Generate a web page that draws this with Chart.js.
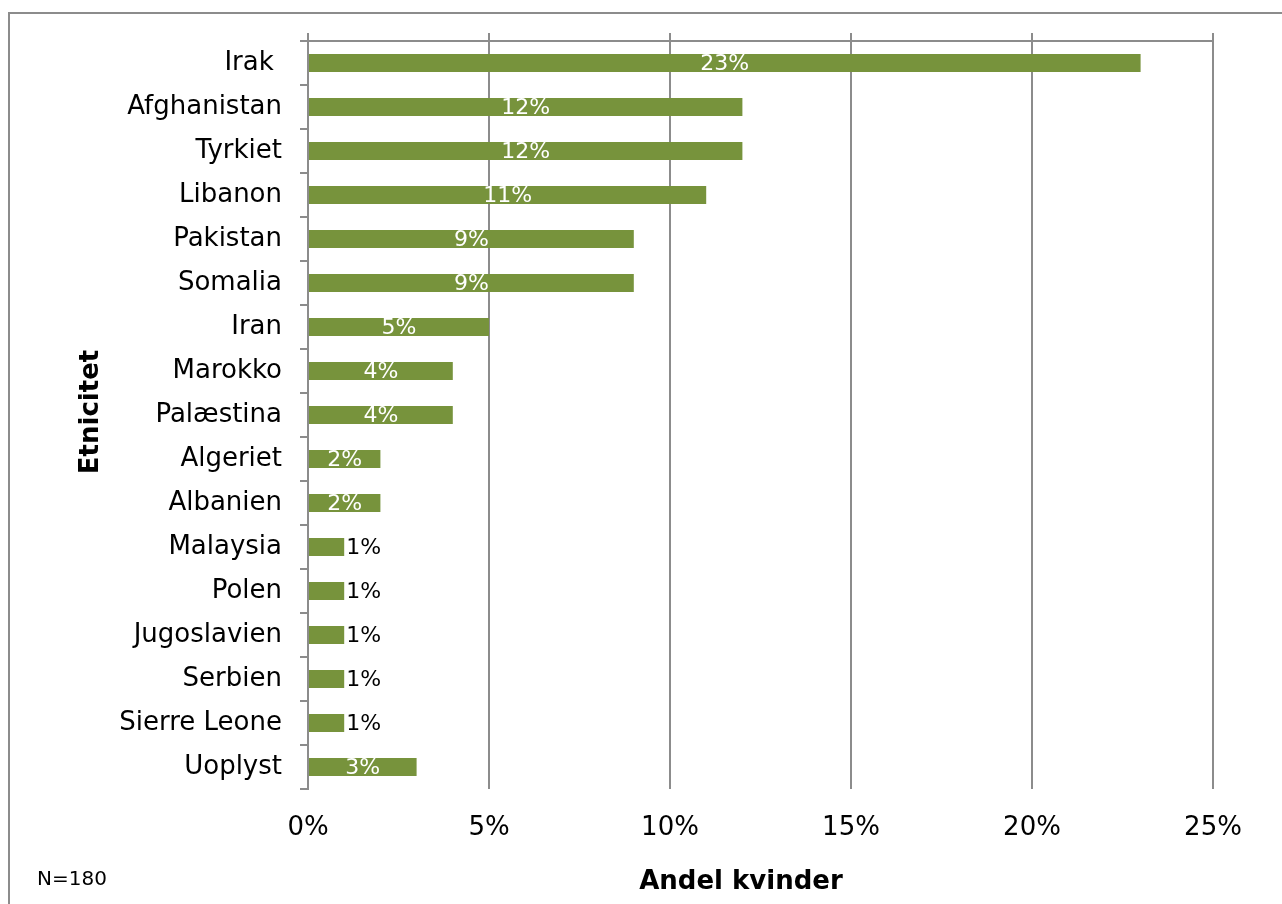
<!DOCTYPE html>
<html>
<head>
<meta charset="utf-8">
<script src="https://cdn.jsdelivr.net/npm/chart.js@4"></script>
<style>
  html, body { margin: 0; padding: 0; background: #fff; }
  #wrap { position: relative; width: 1282px; height: 904px; }
  canvas { display: block; }
</style>
</head>
<body>
<div id="wrap"><canvas id="c" width="1282" height="904"></canvas></div>
<script>
const categories = ['Irak ', 'Afghanistan', 'Tyrkiet', 'Libanon', 'Pakistan', 'Somalia', 'Iran', 'Marokko', 'Palæstina', 'Algeriet', 'Albanien', 'Malaysia', 'Polen', 'Jugoslavien', 'Serbien', 'Sierre Leone', 'Uoplyst'];
const shares = [23, 12, 12, 11, 9, 9, 5, 4, 4, 2, 2, 1, 1, 1, 1, 1, 3];
const xTicks = [0, 5, 10, 15, 20, 25];
const yTitle = 'Etnicitet';
const xTitle = 'Andel kvinder';
const note = 'N=180';

const FONT = "'DejaVu Sans', Verdana, sans-serif";
const GRID = '#8C8C8C';
const BAR = '#77933C';

const frame = {
  id: 'frame',
  beforeDraw(chart) {
    const ctx = chart.ctx;
    ctx.save();
    ctx.strokeStyle = GRID;
    ctx.lineWidth = 2;
    ctx.beginPath();
    ctx.moveTo(9, 904);
    ctx.lineTo(9, 13);
    ctx.lineTo(1282, 13);
    ctx.stroke();
    ctx.restore();
  },
  afterDraw(chart) {
    const ctx = chart.ctx;
    ctx.save();
    ctx.fillStyle = '#000';
    ctx.font = "bold 26px " + FONT;
    ctx.textAlign = 'center';
    ctx.textBaseline = 'middle';
    ctx.fillText(xTitle, 741, 882);
    ctx.save();
    ctx.translate(91, 412);
    ctx.rotate(-Math.PI / 2);
    ctx.fillText(yTitle, 0, 0);
    ctx.restore();
    ctx.font = "20px " + FONT;
    ctx.textAlign = 'left';
    ctx.fillText(note, 37, 880);
    ctx.restore();
  }
};

const barLabels = {
  id: 'barLabels',
  afterDatasetsDraw(chart) {
    const ctx = chart.ctx;
    const meta = chart.getDatasetMeta(0);
    const data = chart.data.datasets[0].data;
    ctx.save();
    ctx.font = "22px " + FONT;
    ctx.textBaseline = 'middle';
    meta.data.forEach((bar, i) => {
      const v = data[i];
      const txt = v + '%';
      if (v >= 2) {
        ctx.fillStyle = '#fff';
        ctx.textAlign = 'center';
        ctx.fillText(txt, (bar.x + bar.base) / 2, bar.y + 1);
      } else {
        ctx.fillStyle = '#000';
        ctx.textAlign = 'left';
        ctx.fillText(txt, bar.x + 2, bar.y + 1);
      }
    });
    ctx.restore();
  }
};

new Chart(document.getElementById('c'), {
  type: 'bar',
  data: {
    labels: categories,
    datasets: [{
      data: shares,
      backgroundColor: BAR,
      borderWidth: 0,
      barPercentage: 0.9,
      categoryPercentage: 0.45,
      xAxisID: 'x',
      yAxisID: 'y'
    }]
  },
  options: {
    indexAxis: 'y',
    responsive: false,
    animation: false,
    devicePixelRatio: 1,
    layout: { padding: { left: 0, top: 33, right: 69, bottom: 0 } },
    plugins: { legend: { display: false }, tooltip: { enabled: false } },
    scales: {
      x: {
        type: 'linear',
        position: 'bottom',
        min: 0, max: 25,
        afterBuildTicks(scale) { scale.ticks = xTicks.map(v => ({ value: v })); },
        afterFit(scale) { scale.height = 115; },
        grid: { color: GRID, lineWidth: 2, drawTicks: false },
        border: { display: false },
        ticks: {
          padding: 24,
          color: '#000',
          font: { family: FONT, size: 26 },
          callback: v => v + '%'
        }
      },
      x2: {
        type: 'linear',
        position: 'top',
        min: 0, max: 25,
        afterBuildTicks(scale) { scale.ticks = xTicks.map(v => ({ value: v })); },
        afterFit(scale) { scale.height = 8; },
        grid: { color: GRID, lineWidth: 2, drawOnChartArea: false, tickLength: 8 },
        border: { display: true, color: GRID, width: 2 },
        ticks: { display: false }
      },
      y: {
        type: 'category',
        position: 'left',
        afterFit(scale) { scale.width = 308; },
        grid: { offset: true, color: GRID, lineWidth: 2, drawOnChartArea: false, tickLength: 8 },
        border: { display: true, color: GRID, width: 2 },
        ticks: {
          padding: 18,
          color: '#000',
          font: { family: FONT, size: 26 }
        }
      }
    }
  },
  plugins: [frame, barLabels]
});
</script>
</body>
</html>
